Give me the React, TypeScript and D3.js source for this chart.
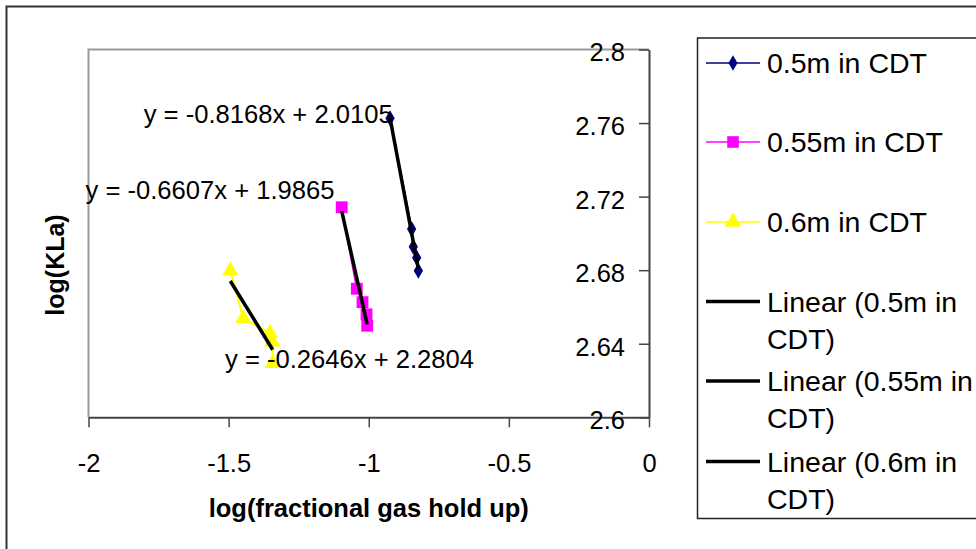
import React, { useEffect, useRef } from "react";
import * as d3 from "d3";

// values
const xTicks = [-2, -1.5, -1, -0.5, 0];
const yTicks = [2.6, 2.64, 2.68, 2.72, 2.76, 2.8];

const seriesNames = ["0.5m in CDT", "0.55m in CDT", "0.6m in CDT"];
const trendNames = ["Linear (0.5m in CDT)", "Linear (0.55m in CDT)", "Linear (0.6m in CDT)"];
const equations = ["y = -0.8168x + 2.0105", "y = -0.6607x + 1.9865", "y = -0.2646x + 2.2804"];

const x05 = [-0.924, -0.847, -0.841, -0.829, -0.823];
const y05 = [2.7626, 2.7024, 2.6928, 2.6868, 2.6797];
const x055 = [-1.0965, -1.0426, -1.0223, -1.008, -1.0055];
const y055 = [2.7142, 2.6699, 2.6626, 2.656, 2.6498];
const x06 = [-1.494, -1.4476, -1.3524, -1.3442, -1.3427];
const y06 = [2.6798, 2.6538, 2.6457, 2.6411, 2.6294];

const W = 976;
const H = 549;
const FONT = "'Liberation Sans', Arial, sans-serif";

const colors = ["#000080", "#FF00FF", "#FFFF00"];
const symbols = [d3.symbolDiamond, d3.symbolSquare, d3.symbolTriangle];
const symSize = [75, 140, 115];
const legSize = [70, 135, 115];

// where Excel put the equation labels (data units) and their text anchor
const eqPos = [
  { x: -0.9145, y: 2.76, anchor: "end" },
  { x: -1.1222, y: 2.7185, anchor: "end" },
  { x: -1.5129, y: 2.6268, anchor: "start" },
];

function fit(xs: number[], ys: number[]) {
  const mx = d3.mean(xs) as number;
  const my = d3.mean(ys) as number;
  const sxy = d3.sum(xs, (v, i) => (v - mx) * (ys[i] - my));
  const sxx = d3.sum(xs, (v) => (v - mx) * (v - mx));
  const slope = sxy / sxx;
  return { slope, intercept: my - slope * mx };
}

const App = () => {
  const svgRef = useRef<SVGSVGElement>(null);

  useEffect(() => {
    const svg = d3.select(svgRef.current);
    svg.selectAll("*").remove();

    const series = [
      { xs: x05, ys: y05 },
      { xs: x055, ys: y055 },
      { xs: x06, ys: y06 },
    ];

    const x = d3.scaleLinear().domain([-2, 0]).range([88.5, 649]);
    const y = d3.scaleLinear().domain([2.6, 2.8]).range([417.3, 49.5]);

    // chart frame
    svg
      .append("rect")
      .attr("x", 6.5)
      .attr("y", 6.5)
      .attr("width", W + 20)
      .attr("height", H + 20)
      .attr("fill", "white")
      .attr("stroke", "#333")
      .attr("stroke-width", 2);

    // plot area border (top & left, gray)
    svg
      .append("path")
      .attr("d", `M${x(0)},${y(2.8)}H${x(-2)}V${y(2.6)}`)
      .attr("fill", "none")
      .attr("stroke", "#9a9a9a")
      .attr("stroke-width", 2);

    // x axis along the bottom
    const xAxis = d3
      .axisBottom(x)
      .tickValues(xTicks)
      .tickSize(10)
      .tickSizeOuter(0)
      .tickFormat((d) => String(d));
    const gx = svg.append("g").attr("transform", `translate(0,${y(2.6)})`).call(xAxis);
    gx.select(".domain").attr("stroke", "#444").attr("stroke-width", 2);
    gx.selectAll(".tick line").attr("stroke", "#444").attr("stroke-width", 1.5);
    gx.selectAll(".tick text")
      .attr("y", 0)
      .attr("dy", 0)
      .attr("transform", "translate(0,55)")
      .style("font-family", FONT)
      .style("font-size", "25.5px")
      .attr("fill", "black");

    // y axis on the right (crosses at x = 0), labels inside
    const yAxis = d3
      .axisLeft(y)
      .tickValues(yTicks)
      .tickSize(10)
      .tickSizeOuter(0)
      .tickFormat((d) => String(d));
    const gy = svg.append("g").attr("transform", `translate(${x(0)},0)`).call(yAxis);
    gy.select(".domain").attr("stroke", "#444").attr("stroke-width", 2);
    gy.selectAll(".tick line").attr("stroke", "#444").attr("stroke-width", 1.5);
    gy.selectAll(".tick text")
      .attr("x", -24)
      .attr("dy", "0.45em")
      .style("font-family", FONT)
      .style("font-size", "25.5px")
      .attr("fill", "black");

    // axis titles
    svg
      .append("text")
      .attr("x", (x(-2) + x(0)) / 2)
      .attr("y", 517)
      .attr("text-anchor", "middle")
      .style("font-family", FONT)
      .style("font-size", "25.5px")
      .style("font-weight", "bold")
      .text("log(fractional gas hold up)");

    svg
      .append("text")
      .attr("transform", `translate(64,265) rotate(-90)`)
      .attr("text-anchor", "middle")
      .style("font-family", FONT)
      .style("font-size", "25px")
      .style("font-weight", "bold")
      .text("log(KLa)");

    series.forEach((s, k) => {
      const pts = s.xs.map((v, i) => [v, s.ys[i]] as [number, number]);
      svg
        .append("path")
        .attr("d", d3.line<[number, number]>().x((d) => x(d[0])).y((d) => y(d[1]))(pts))
        .attr("fill", "none")
        .attr("stroke", colors[k])
        .attr("stroke-width", 2);

      svg
        .selectAll(null)
        .data(pts)
        .enter()
        .append("path")
        .attr("d", d3.symbol().type(symbols[k]).size(symSize[k]))
        .attr("transform", (d) => `translate(${x(d[0])},${y(d[1])})`)
        .attr("fill", colors[k]);
    });

    // linear trendlines
    series.forEach((s) => {
      const f = fit(s.xs, s.ys);
      const ext = d3.extent(s.xs) as [number, number];
      svg
        .append("line")
        .attr("x1", x(ext[0]))
        .attr("y1", y(f.slope * ext[0] + f.intercept))
        .attr("x2", x(ext[1]))
        .attr("y2", y(f.slope * ext[1] + f.intercept))
        .attr("stroke", "black")
        .attr("stroke-width", 3.5);
    });

    // equation labels
    equations.forEach((eq, k) => {
      svg
        .append("text")
        .attr("x", x(eqPos[k].x))
        .attr("y", y(eqPos[k].y))
        .attr("text-anchor", eqPos[k].anchor)
        .style("font-family", FONT)
        .style("font-size", "25.6px")
        .text(eq);
    });

    // legend
    const leg = svg.append("g");
    leg
      .append("rect")
      .attr("x", 697.5)
      .attr("y", 38)
      .attr("width", 300)
      .attr("height", 480.5)
      .attr("fill", "white")
      .attr("stroke", "#222")
      .attr("stroke-width", 1.5);

    const rowY = [63, 142, 222];
    seriesNames.forEach((name, k) => {
      const g = leg.append("g").attr("transform", `translate(0,${rowY[k]})`);
      g.append("line")
        .attr("x1", 706)
        .attr("x2", 760)
        .attr("stroke", colors[k])
        .attr("stroke-width", 1.5);
      g.append("path")
        .attr("d", d3.symbol().type(symbols[k]).size(legSize[k]))
        .attr("transform", "translate(733,0)")
        .attr("fill", colors[k]);
      g.append("text")
        .attr("x", 767)
        .attr("dy", "0.36em")
        .style("font-family", FONT)
        .style("font-size", "28.5px")
        .text(name);
    });

    const trendY = [301.5, 381, 461.5];
    trendNames.forEach((name, k) => {
      const g = leg.append("g").attr("transform", `translate(0,${trendY[k]})`);
      g.append("line")
        .attr("x1", 706)
        .attr("x2", 760)
        .attr("stroke", "black")
        .attr("stroke-width", 3.5);
      const cut = name.lastIndexOf(" ");
      const t = g
        .append("text")
        .style("font-family", FONT)
        .style("font-size", "28.5px");
      t.append("tspan").attr("x", 767).attr("dy", "0.36em").text(name.slice(0, cut));
      t.append("tspan").attr("x", 767).attr("dy", 37).text(name.slice(cut + 1));
    });
  }, []);

  return (
    <div style={{ position: "absolute", left: 0, top: 0 }}>
      <svg ref={svgRef} width={W} height={H} style={{ display: "block" }} />
    </div>
  );
};

export default App;
